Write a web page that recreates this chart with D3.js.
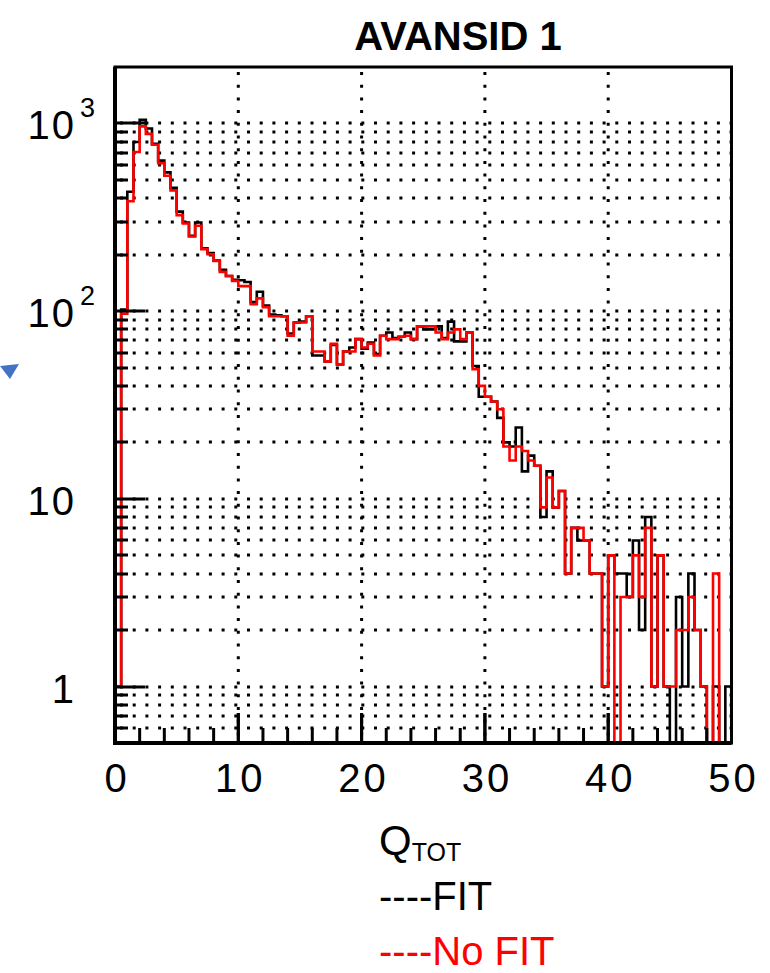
<!DOCTYPE html>
<html>
<head>
<meta charset="utf-8">
<script src="https://cdn.jsdelivr.net/npm/d3@7"></script>
<style>
  body { margin: 0; background: #fff; }
  svg { display: block; }
  .tick-label { font-family: 'Liberation Sans', Arial, sans-serif; fill: #000; }
  .caption { font-family: 'Liberation Sans', Arial, sans-serif; }
</style>
</head>
<body>
<div id="chart"></div>
<script>
// histogram: 100 bins of 0.5 from 0 to 50
const binWidth = 0.5;
const fitCounts = [
  1, 102, 433, 797, 1045, 940, 780, 634, 549, 455,
  339, 297, 252, 297, 216, 204, 186, 166, 154, 147,
  146, 143, 112, 127, 107, 96, 95, 94, 76, 87,
  88, 94, 58, 58, 54, 66, 52, 61, 64, 71,
  63, 68, 59, 74, 77, 72, 73, 77, 71, 83,
  80, 80, 83, 72, 88, 69, 69, 77, 51, 35,
  35, 33, 27, 20, 19, 24, 14, 17, 15, 8,
  14, 9, 11, 4, 7, 6, 6, 4, 4, 1,
  5, 4, 4, 3, 6, 2, 8, 1, 5, 1,
  0, 3, 1, 4, 2, 1, 0, 1, 0, 1
];
const noFitCounts = [
  1, 97, 385, 705, 965, 880, 770, 615, 527, 440,
  325, 293, 250, 285, 214, 201, 185, 162, 154, 145,
  136, 136, 109, 117, 105, 94, 94, 94, 74, 87,
  87, 94, 61, 61, 54, 67, 52, 61, 61, 71,
  64, 67, 58, 74, 71, 71, 73, 74, 71, 83,
  83, 83, 77, 71, 77, 80, 71, 77, 49, 40,
  35, 33, 30, 19, 16, 19, 18, 16, 15, 9,
  13, 9, 11, 4, 7, 7, 6, 4, 4, 1,
  5, 0, 3, 3, 5, 3, 7, 1, 5, 1,
  1, 2, 2, 3, 2, 1, 0, 4, 0, 0
];
const xTickValues = [0, 10, 20, 30, 40, 50];
const yLabelValues = [1, 10, 100, 1000];
const yLabelText = [['1', ''], ['10', ''], ['10', '2'], ['10', '3']];
const title = 'AVANSID 1';
const legendItems = [
  { text: '----FIT', color: '#000' },
  { text: '----No FIT', color: '#ff0000' }
];

const width = 770, height = 973;
const frame = { left: 115, right: 731.5, top: 67, bottom: 743 };

const svg = d3.select('#chart').append('svg')
  .attr('width', width)
  .attr('height', height);

svg.append('rect').attr('width', width).attr('height', height).attr('fill', '#fff');

const x = d3.scaleLinear().domain([0, 50]).range([frame.left, frame.right]);
const y = d3.scaleLog().domain([0.5, 2000]).range([frame.bottom, frame.top]).clamp(true);

// log minor values (0.6 .. 1000)
const logValues = [];
[0.1, 1, 10, 100].forEach(dec => {
  for (let k = 1; k <= 9; k++) {
    const v = +(dec * k).toPrecision(3);
    if (v >= 0.6 && v <= 1000) logValues.push(v);
  }
});
logValues.push(1000);

// dotted grid
const grid = svg.append('g').attr('class', 'grid')
  .attr('stroke', '#000')
  .attr('stroke-width', 3)
  .attr('stroke-dasharray', '3,9.7');
grid.selectAll('line.h').data(logValues).enter()
  .append('line')
    .attr('class', 'h')
    .attr('x1', frame.left + 5).attr('x2', frame.right)
    .attr('y1', d => Math.round(y(d))).attr('y2', d => Math.round(y(d)));
grid.selectAll('line.v').data([10, 20, 30, 40]).enter()
  .append('line')
    .attr('class', 'v')
    .attr('x1', d => x(d)).attr('x2', d => x(d))
    .attr('y1', frame.top + 5).attr('y2', frame.bottom);

// histogram outline, ROOT style
function histPoints(counts) {
  const pts = [[x(0), frame.bottom + 4]];
  counts.forEach((c, i) => {
    const lo = x(i * binWidth), hi = x((i + 1) * binWidth);
    const yv = c > 0 ? y(c) : frame.bottom + 4;
    pts.push([lo, yv], [hi, yv]);
  });
  pts.push([x(50), frame.bottom + 4]);
  return pts;
}

svg.append('clipPath').attr('id', 'clip')
  .append('rect')
    .attr('x', frame.left).attr('y', frame.top)
    .attr('width', frame.right - frame.left).attr('height', frame.bottom - frame.top);

const line = d3.line().x(d => d[0]).y(d => d[1]);
const hists = svg.append('g').attr('clip-path', 'url(#clip)');
hists.append('path')
  .attr('d', line(histPoints(fitCounts)))
  .attr('fill', 'none').attr('stroke', '#000').attr('stroke-width', 2.6);
hists.append('path')
  .attr('d', line(histPoints(noFitCounts)))
  .attr('fill', 'none').attr('stroke', '#ff0000').attr('stroke-width', 2.6);

// frame
svg.append('rect')
  .attr('x', frame.left).attr('y', frame.top)
  .attr('width', frame.right - frame.left).attr('height', frame.bottom - frame.top)
  .attr('fill', 'none').attr('stroke', '#000').attr('stroke-width', 3);
svg.append('line') // thicker left and bottom axis
  .attr('x1', frame.left).attr('x2', frame.left)
  .attr('y1', frame.top).attr('y2', frame.bottom + 2)
  .attr('stroke', '#000').attr('stroke-width', 4);
svg.append('line')
  .attr('x1', frame.left).attr('x2', frame.right)
  .attr('y1', frame.bottom).attr('y2', frame.bottom)
  .attr('stroke', '#000').attr('stroke-width', 4);

// y ticks, inside the frame
const ticks = svg.append('g').attr('stroke', '#000').attr('stroke-width', 3);
ticks.selectAll('line.yt').data(logValues).enter()
  .append('line')
    .attr('class', 'yt')
    .attr('x1', frame.left)
    .attr('x2', d => frame.left + (yLabelValues.includes(d) ? 30 : 13))
    .attr('y1', d => Math.round(y(d))).attr('y2', d => Math.round(y(d)));
// x ticks every 2
const xMinor = d3.range(0, 51, 2).filter(v => v > 0 && v < 50);
ticks.selectAll('line.xt').data(xMinor.concat([10, 20, 30, 40])).enter()
  .append('line')
    .attr('class', 'xt')
    .attr('x1', d => x(d)).attr('x2', d => x(d))
    .attr('y1', frame.bottom)
    .attr('y2', d => frame.bottom - (d % 10 === 0 ? 30 : 15));

// x tick labels
svg.append('g').selectAll('text').data(xTickValues).enter()
  .append('text')
    .attr('class', 'tick-label')
    .attr('x', d => x(d) + 2)
    .attr('y', 792)
    .attr('text-anchor', 'middle')
    .attr('font-size', 40)
    .attr('letter-spacing', 3)
    .text(d => d);

// y tick labels with exponents
const yl = svg.append('g').selectAll('g').data(yLabelValues).enter()
  .append('g')
    .attr('transform', d => `translate(0,${y(d)})`);
yl.append('text')
  .attr('class', 'tick-label')
  .attr('x', 76).attr('y', 16)
  .attr('text-anchor', 'end')
  .attr('font-size', 40)
  .attr('letter-spacing', 2)
  .text((d, i) => yLabelText[i][0]);
yl.append('text')
  .attr('class', 'tick-label')
  .attr('x', 80).attr('y', -6)
  .attr('font-size', 27)
  .text((d, i) => yLabelText[i][1]);

// title
svg.append('text')
  .attr('class', 'caption')
  .attr('x', 458).attr('y', 50)
  .attr('text-anchor', 'middle')
  .attr('font-size', 40)
  .attr('font-weight', 'bold')
  .text(title);

// x axis title Q_TOT
const qt = svg.append('text')
  .attr('class', 'caption')
  .attr('x', 379).attr('y', 855)
  .attr('font-size', 42);
qt.append('tspan').text('Q');
qt.append('tspan').attr('font-size', 25).attr('dy', 6).text('TOT');

// legend lines
svg.append('g').selectAll('text').data(legendItems).enter()
  .append('text')
    .attr('class', 'caption')
    .attr('x', 379)
    .attr('y', (d, i) => 910 + i * 55)
    .attr('font-size', 40)
    .attr('fill', d => d.color)
    .text(d => d.text);

// small blue marker at the left edge
svg.append('path')
  .attr('d', 'M0,366 L19,364 L10,379 Z')
  .attr('fill', '#4472c4');
</script>
</body>
</html>
